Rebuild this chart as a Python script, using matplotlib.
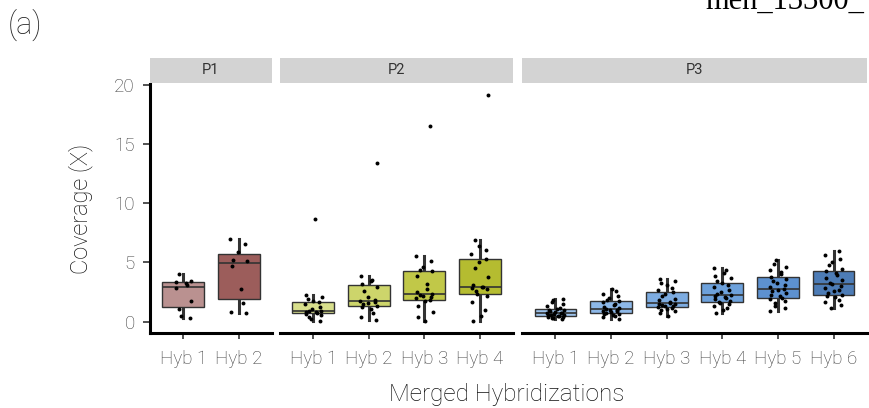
import numpy as np
import matplotlib
matplotlib.use("Agg")
import matplotlib.pyplot as plt

plt.rcParams['font.family'] = ['Roboto', 'DejaVu Sans']

# Coverage per merged hybridization, grouped by pool
panels = ["P1", "P2", "P3"]

p1_labels = ["Hyb 1", "Hyb 2"]
p1_hyb1 = [0.31, 0.45, 1.04, 1.78, 2.80, 3.08, 3.28, 3.36, 3.47, 4.04]
p1_hyb2 = [0.71, 0.78, 1.59, 2.75, 4.72, 5.12, 5.24, 5.92, 6.59, 6.98]

p2_labels = ["Hyb 1", "Hyb 2", "Hyb 3", "Hyb 4"]
p2_hyb1 = [0.05, 0.25, 0.40, 0.55, 0.66, 0.72, 0.78, 0.84, 0.88, 0.92,
           1.05, 1.20, 1.45, 1.62, 1.74, 1.90, 2.10, 2.26, 8.68]
p2_hyb2 = [0.10, 0.35, 0.70, 1.05, 1.25, 1.35, 1.50, 1.60, 1.68, 1.75,
           1.85, 2.05, 2.60, 2.95, 3.15, 3.40, 3.55, 3.87, 13.36]
p2_hyb3 = [0.05, 0.40, 0.85, 1.30, 1.70, 1.86, 2.00, 2.10, 2.20, 2.28,
           2.37, 2.50, 2.75, 3.15, 3.85, 4.24, 4.35, 4.60, 5.10, 5.51, 16.55]
p2_hyb4 = [0.05, 0.50, 1.00, 1.65, 2.15, 2.32, 2.60, 2.75, 2.85, 2.90,
           2.94, 3.10, 3.80, 4.50, 5.00, 5.31, 5.70, 6.05, 6.40, 6.92, 19.10]

p3_labels = ["Hyb 1", "Hyb 2", "Hyb 3", "Hyb 4", "Hyb 5", "Hyb 6"]
p3_hyb1 = [0.20, 0.28, 0.34, 0.38, 0.42, 0.45, 0.48, 0.52, 0.56, 0.60,
           0.64, 0.69, 0.73, 0.77, 0.82, 0.88, 0.95, 1.02, 1.07, 1.18,
           1.30, 1.45, 1.62, 1.80, 1.92]
p3_hyb2 = [0.23, 0.35, 0.45, 0.55, 0.62, 0.68, 0.73, 0.80, 0.86, 0.92,
           0.97, 1.02, 1.07, 1.15, 1.25, 1.38, 1.50, 1.62, 1.72, 1.85,
           2.00, 2.15, 2.35, 2.55, 2.77]
p3_hyb3 = [0.45, 0.70, 0.88, 1.00, 1.10, 1.18, 1.24, 1.30, 1.36, 1.42,
           1.48, 1.53, 1.58, 1.68, 1.80, 1.95, 2.15, 2.35, 2.49, 2.65,
           2.85, 3.05, 3.25, 3.42, 3.59]
p3_hyb4 = [0.71, 0.95, 1.15, 1.35, 1.50, 1.60, 1.69, 1.78, 1.88, 1.98,
           2.08, 2.15, 2.23, 2.35, 2.50, 2.70, 2.92, 3.12, 3.28, 3.45,
           3.65, 3.85, 4.10, 4.35, 4.55]
p3_hyb5 = [0.93, 1.15, 1.35, 1.55, 1.75, 1.90, 2.03, 2.15, 2.28, 2.42,
           2.55, 2.66, 2.77, 2.90, 3.05, 3.25, 3.45, 3.62, 3.79, 3.98,
           4.18, 4.40, 4.65, 4.90, 5.17]
p3_hyb6 = [1.16, 1.40, 1.65, 1.85, 2.05, 2.18, 2.29, 2.42, 2.56, 2.70,
           2.85, 3.00, 3.14, 3.30, 3.48, 3.70, 3.90, 4.10, 4.27, 4.48,
           4.75, 5.00, 5.30, 5.65, 5.99]

p1_colors = ["#BA9190", "#9C5D5B"]
p2_colors = ["#D8DF8C", "#CDD56B", "#C1C848", "#B5BC30"]
p3_colors = ["#9DC3EC", "#8DB8E8", "#7DACE1", "#6DA1DB", "#5D91D0", "#4D7CB6"]

groups = [
    (p1_labels, [p1_hyb1, p1_hyb2], p1_colors),
    (p2_labels, [p2_hyb1, p2_hyb2, p2_hyb3, p2_hyb4], p2_colors),
    (p3_labels, [p3_hyb1, p3_hyb2, p3_hyb3, p3_hyb4, p3_hyb5, p3_hyb6], p3_colors),
]

W, H = 869, 408
fig = plt.figure(figsize=(W / 100, H / 100), dpi=100)

# panel extents in pixels (left, right); plot area and strip rows
panel_px = [(150, 272), (280, 513), (522, 867)]
plot_top, plot_bottom = 84, 333
strip_top = 58

tick_color = "#3C3C3C"
dark = "#333333"
title_color = "#111111"

for i, ((labels, data, colors), (x0, x1), name) in enumerate(zip(groups, panel_px, panels)):
    ax = fig.add_axes([x0 / W, (H - plot_bottom) / H, (x1 - x0) / W,
                       (plot_bottom - plot_top) / H])
    n = len(labels)
    pos = np.arange(1, n + 1)
    bp = ax.boxplot(data, positions=pos, widths=0.75, patch_artist=True,
                    showfliers=False, whis=1.5, showcaps=False,
                    medianprops=dict(color=dark, linewidth=1.2),
                    boxprops=dict(edgecolor=dark, linewidth=1.0),
                    whiskerprops=dict(color=dark, linewidth=2.2))
    for patch, c in zip(bp['boxes'], colors):
        patch.set_facecolor(c)
        patch.set_zorder(2)
    for w in bp['whiskers']:
        w.set_zorder(1)
    for m in bp['medians']:
        m.set_zorder(3)
    for p, vals in zip(pos, data):
        k = np.arange(len(vals))
        offs = 0.15 * np.sin(k * 2.4 + p)
        ax.scatter(p + offs, vals, s=8, color="black", zorder=4, linewidths=0)

    ax.set_xlim(0.4, n + 0.6)
    ax.set_ylim(-0.96, 20.06)
    ax.set_xticks(pos)
    ax.set_xticklabels(labels, fontsize=13.5, color=tick_color, fontweight="light")
    ax.tick_params(axis='x', length=4, width=1.2, color=dark, pad=8)
    for s in ["top", "right"]:
        ax.spines[s].set_visible(False)
    ax.spines["bottom"].set_linewidth(2.2)
    ax.spines["bottom"].set_color("black")
    if i == 0:
        ax.set_yticks([0, 5, 10, 15, 20])
        ax.set_yticklabels(["0", "5", "10", "15", "20"], fontsize=13.5,
                           color=tick_color, fontweight="light")
        ax.tick_params(axis='y', length=5, width=1.2, color=dark, pad=6)
        ax.spines["left"].set_linewidth(2.2)
        ax.spines["left"].set_color("black")
        ax.set_ylabel("Coverage (X)", fontsize=17, color=title_color,
                      fontweight="light", labelpad=15)
    else:
        ax.spines["left"].set_visible(False)
        ax.set_yticks([])
    ax.patch.set_alpha(0)

    # facet strip
    sax = fig.add_axes([x0 / W, (H - plot_top + 1) / H, (x1 - x0) / W,
                        (plot_top - 1 - strip_top) / H])
    sax.set_facecolor("#D3D3D3")
    sax.set_xticks([])
    sax.set_yticks([])
    for s in sax.spines.values():
        s.set_visible(False)
    sax.text(0.5, 0.5, name, ha="center", va="center", fontsize=10.5,
             color="#333333", transform=sax.transAxes)

fig.text(507 / W, 1 - 395 / H, "Merged Hybridizations", ha="center", va="center",
         fontsize=17.5, color=title_color, fontweight="light")
fig.text(8 / W, 1 - 25 / H, "(a)", ha="left", va="center", fontsize=22,
         color="#222222", fontweight="light")
fig.text(705 / W, 1 - 9 / H, "men_13300_", ha="left", va="baseline", fontsize=22,
         family=["Liberation Serif", "DejaVu Serif"], color="black")

fig.savefig("out.png", dpi=100)
